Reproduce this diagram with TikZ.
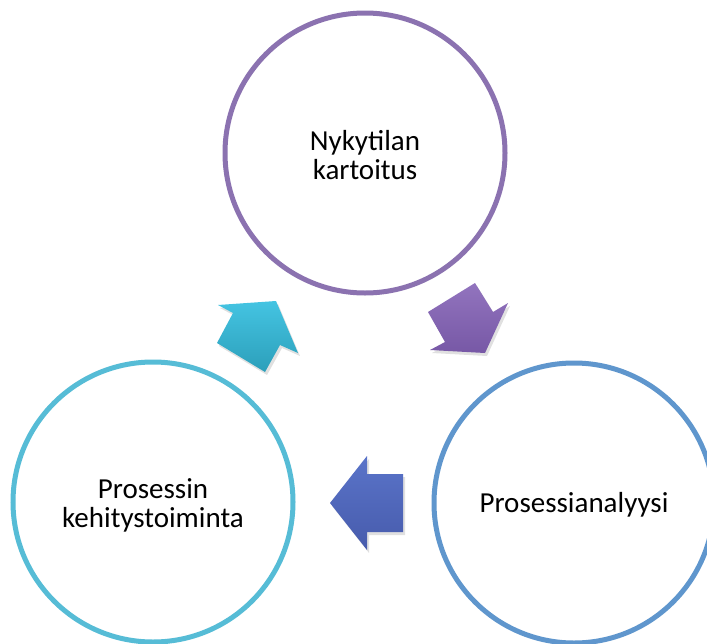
\documentclass[tikz,border=0pt]{standalone}
\usepackage{fontspec}
\setmainfont{Carlito}
\definecolor{ringPurple}{HTML}{8B72B0}
\definecolor{ringBlue}{HTML}{5F96CD}
\definecolor{ringCyan}{HTML}{56BCD6}
\definecolor{purTop}{HTML}{9274BE}
\definecolor{purBot}{HTML}{7758A6}
\definecolor{bluTop}{HTML}{5A74C9}
\definecolor{bluBot}{HTML}{475BAC}
\definecolor{cyaTop}{HTML}{44C4E2}
\definecolor{cyaBot}{HTML}{2C9FBA}
\tikzset{
  ring/.style={circle, line width=5pt, minimum size=280pt, inner sep=0pt,
    align=center, font=\fontsize{29}{29}\selectfont, text=black},
  arrshadow/.style={fill=black, opacity=0.12},
}
\begin{document}
\begin{tikzpicture}[x=1pt,y=-1pt]
\useasboundingbox (0,0) rectangle (707,643);
\fill[white] (0,0) rectangle (707,643);
% circles
\node[ring, draw=ringPurple] (top) at (365,153) {};
\node[ring, draw=ringCyan] (left) at (153,502) {};
\node[ring, draw=ringBlue] (right) at (574,503) {};
% labels
\node[align=center, font=\fontsize{29}{29}\selectfont] (toplbl) at ([yshift=-2pt]top.center) {Nykytilan\\kartoitus};
\node[align=center, font=\fontsize{29}{29}\selectfont] (leftlbl) at ([yshift=-3pt]left.center) {Prosessin\\kehitystoiminta};
\node[align=center, font=\fontsize{29}{29}\selectfont] (rightlbl) at ([yshift=-2pt]right.center) {Prosessianalyysi};
% shadows
\begin{scope}[shift={(2,3)}]
\fill[arrshadow] (276,301) -- (298,353) -- (280,345) -- (265,372) -- (217,343) -- (233,313) -- (218,305) -- cycle;
\fill[arrshadow] (485,353) -- (430,350) -- (445,342) -- (428,312) -- (475,283) -- (493,312) -- (508,303) -- cycle;
\fill[arrshadow] (330,503) -- (367,456) -- (367,474) -- (403,474) -- (403,532) -- (367,532) -- (367,550) -- cycle;
\end{scope}
% cyan arrow (left -> top)
\shade[top color=cyaTop, bottom color=cyaBot]
  (276,301) -- (298,353) -- (280,345) -- (265,372) -- (217,343) -- (233,313) -- (218,305) -- cycle;
% purple arrow (top -> right)
\shade[top color=purTop, bottom color=purBot]
  (485,353) -- (430,350) -- (445,342) -- (428,312) -- (475,283) -- (493,312) -- (508,303) -- cycle;
% blue arrow (right -> left)
\shade[top color=bluTop, bottom color=bluBot]
  (330,503) -- (367,456) -- (367,474) -- (403,474) -- (403,532) -- (367,532) -- (367,550) -- cycle;
\end{tikzpicture}
\end{document}
